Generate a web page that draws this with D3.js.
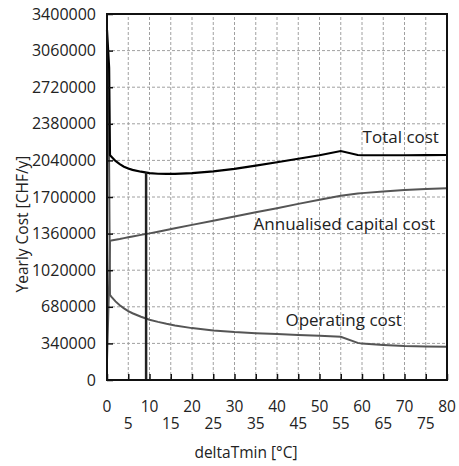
<!DOCTYPE html>
<html>
<head>
<meta charset="utf-8">
<script src="https://cdn.jsdelivr.net/npm/d3@7"></script>
<style>
  html, body { margin: 0; padding: 0; background: #fff; }
  svg { display: block; font-family: "Open Sans", "Noto Sans", sans-serif; }
</style>
</head>
<body>
<svg id="chart" width="459" height="466"></svg>
<script>
// deltaTmin sweep [°C]
const deltaT = [0, 0.5, 0.7, 1, 2, 3, 4, 5, 6, 8, 10, 12, 14, 16, 20, 25, 30, 35, 40, 45, 50, 55, 59, 60, 65, 70, 75, 80];
// Yearly cost components [CHF/y]
const totalCost = [3250000, 2900000, 2090000, 2075000, 2035000, 2005000, 1982000, 1965000, 1952000, 1935000, 1922000, 1916000, 1914000, 1915000, 1922000, 1938000, 1962000, 1992000, 2023000, 2055000, 2088000, 2127000, 2090000, 2088000, 2088000, 2088000, 2089000, 2090000];
const capitalCost = [186000, 900000, 1293000, 1295000, 1303000, 1310000, 1318000, 1326000, 1333000, 1348000, 1362000, 1378000, 1394000, 1410000, 1441000, 1480000, 1519000, 1558000, 1596000, 1636000, 1675000, 1712000, 1732000, 1736000, 1752000, 1766000, 1775000, 1781000];
const operatingCost = [3060000, 2000000, 790000, 775000, 730000, 695000, 665000, 640000, 620000, 588000, 560000, 540000, 522000, 507000, 482000, 460000, 445000, 435000, 427000, 419000, 410000, 402000, 345000, 338000, 325000, 316000, 312000, 309000];
// Optimum deltaTmin and its total cost
const optimum = { dT: 9.2, cost: 1928000 };

// Axis ticks
const yTicks = [0, 340000, 680000, 1020000, 1360000, 1700000, 2040000, 2380000, 2720000, 3060000, 3400000];
const xTicks = [0, 5, 10, 15, 20, 25, 30, 35, 40, 45, 50, 55, 60, 65, 70, 75, 80];

// Curve labels (right-aligned at dT)
const labels = [
  { text: "Total cost", dT: 78.1, value: 2200000 },
  { text: "Annualised capital cost", dT: 77.2, value: 1395000 },
  { text: "Operating cost", dT: 69.4, value: 500000 }
];

const margin = { left: 107, right: 12, top: 14, bottom: 86 };
const W = 459, H = 466;
const svg = d3.select("#chart");

const x = d3.scaleLinear().domain([0, 80]).range([margin.left, W - margin.right]);
const y = d3.scaleLinear().domain([0, 3400000]).range([H - margin.bottom, margin.top]);

const textColor = "#222";
const tickFont = 16;
const xTickFont = 15.5;
const labelFont = 17;
const titleFont = 15.5;

// grid
const grid = svg.append("g");
grid.selectAll("line.vg").data(xTicks.slice(1, -1)).join("line")
  .attr("x1", d => x(d)).attr("x2", d => x(d))
  .attr("y1", y(0)).attr("y2", y(3400000))
  .attr("stroke", "#a0a0a0").attr("stroke-width", 1).attr("stroke-dasharray", "3,2");
grid.selectAll("line.hg").data(yTicks.slice(1, -1)).join("line")
  .attr("x1", x(0)).attr("x2", x(80))
  .attr("y1", d => y(d)).attr("y2", d => y(d))
  .attr("stroke", "#a0a0a0").attr("stroke-width", 1).attr("stroke-dasharray", "3,2");

// series
const line = vals => d3.line().x((d, i) => x(deltaT[i])).y(d => y(d))(vals);
svg.append("path").attr("d", line(capitalCost)).attr("fill", "none")
  .attr("stroke", "#555").attr("stroke-width", 2);
svg.append("path").attr("d", line(operatingCost)).attr("fill", "none")
  .attr("stroke", "#555").attr("stroke-width", 2);
svg.append("path").attr("d", line(totalCost)).attr("fill", "none")
  .attr("stroke", "#000").attr("stroke-width", 2.2);

// optimum marker
svg.append("line")
  .attr("x1", x(optimum.dT)).attr("x2", x(optimum.dT))
  .attr("y1", y(0)).attr("y2", y(optimum.cost))
  .attr("stroke", "#222").attr("stroke-width", 2.5);

// axes
const xAxis = d3.axisBottom(x).tickValues(xTicks).tickSizeInner(-6).tickSizeOuter(0).tickFormat("");
const gx = svg.append("g").attr("transform", `translate(0,${y(0)})`).call(xAxis);
gx.select(".domain").remove();
gx.selectAll(".tick line").attr("stroke", "#111").attr("stroke-width", 1.5);

const yAxis = d3.axisLeft(y).tickValues(yTicks).tickSizeInner(-6).tickSizeOuter(0).tickPadding(11)
  .tickFormat(d3.format("d"));
const gy = svg.append("g").attr("transform", `translate(${x(0)},0)`).call(yAxis);
gy.select(".domain").remove();
gy.selectAll(".tick line").attr("stroke", "#111").attr("stroke-width", 1.5);
gy.selectAll(".tick text").attr("font-size", tickFont).attr("fill", textColor)
  .attr("font-family", "'Open Sans', sans-serif");

// x tick labels on two staggered rows
svg.append("g").selectAll("text").data(xTicks).join("text")
  .attr("x", d => x(d))
  .attr("y", d => y(0) + (d % 10 === 0 ? 32 : 49))
  .attr("text-anchor", "middle")
  .attr("font-size", xTickFont).attr("fill", textColor)
  .text(d => d);

// frame
svg.append("rect")
  .attr("x", x(0)).attr("y", y(3400000))
  .attr("width", x(80) - x(0)).attr("height", y(0) - y(3400000))
  .attr("fill", "none").attr("stroke", "#111").attr("stroke-width", 2);

// curve labels
svg.append("g").selectAll("text").data(labels).join("text")
  .attr("x", d => x(d.dT))
  .attr("y", d => y(d.value))
  .attr("text-anchor", "end")
  .attr("font-size", labelFont).attr("fill", textColor)
  .text(d => d.text);

// axis titles
svg.append("text")
  .attr("x", 246).attr("y", H - 8)
  .attr("text-anchor", "middle").attr("font-size", titleFont).attr("fill", textColor)
  .text("deltaTmin [°C]");
svg.append("text")
  .attr("transform", `translate(28,224) rotate(-90)`)
  .attr("text-anchor", "middle").attr("font-size", titleFont).attr("fill", textColor)
  .text("Yearly Cost [CHF/y]");
</script>
</body>
</html>
